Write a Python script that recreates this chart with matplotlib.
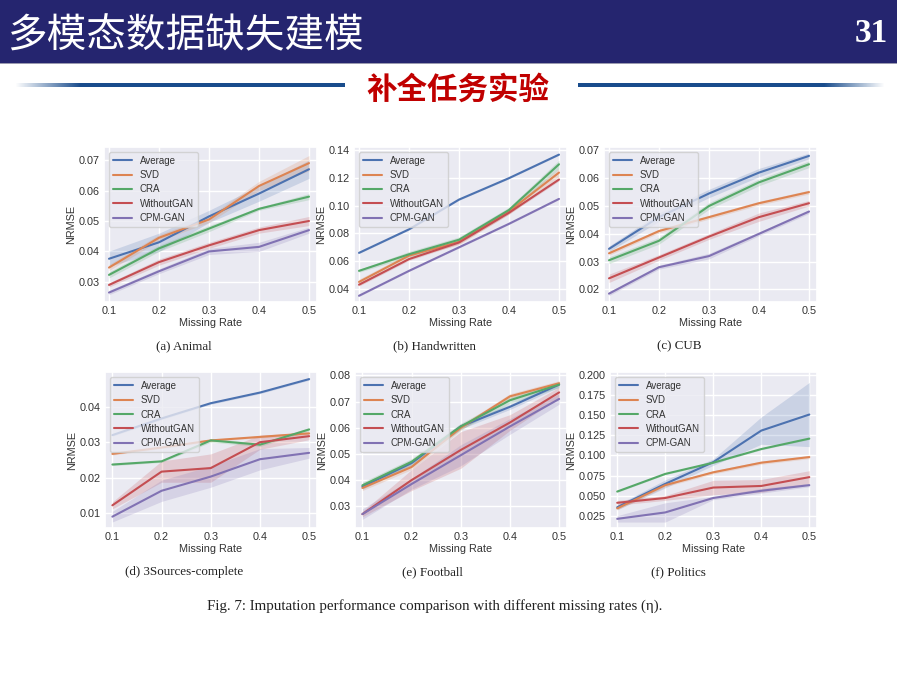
import numpy as np
import matplotlib
matplotlib.use("Agg")
import matplotlib.pyplot as plt
import seaborn as sns
from matplotlib.patches import Rectangle

sns.set_theme(style="darkgrid")
plt.rcParams['font.family'] = ['Liberation Sans', 'Noto Sans CJK SC', 'DejaVu Sans']

# ---------------- data ----------------
missing_rate = [0.1, 0.2, 0.3, 0.4, 0.5]
methods = ["Average", "SVD", "CRA", "WithoutGAN", "CPM-GAN"]
colors = ["#4C72B0", "#DD8452", "#55A868", "#C44E52", "#8172B3"]

animal = {
    "Average":    [0.0376, 0.0430, 0.0515, 0.0590, 0.0670],
    "SVD":        [0.0347, 0.0445, 0.0505, 0.0615, 0.0690],
    "CRA":        [0.0323, 0.0410, 0.0475, 0.0540, 0.0580],
    "WithoutGAN": [0.0290, 0.0365, 0.0420, 0.0470, 0.0500],
    "CPM-GAN":    [0.0265, 0.0335, 0.0400, 0.0415, 0.0470],
}
animal_err = {
    "Average":    [0.0025, 0.0030, 0.0020, 0.0025, 0.0030],
    "SVD":        [0.0010, 0.0010, 0.0010, 0.0015, 0.0025],
    "CRA":        [0.0010, 0.0010, 0.0010, 0.0005, 0.0010],
    "WithoutGAN": [0.0007, 0.0010, 0.0010, 0.0010, 0.0015],
    "CPM-GAN":    [0.0007, 0.0008, 0.0010, 0.0015, 0.0010],
}

handwritten = {
    "Average":    [0.066, 0.083, 0.1045, 0.120, 0.137],
    "SVD":        [0.045, 0.064, 0.074, 0.096, 0.124],
    "CRA":        [0.053, 0.065, 0.0755, 0.097, 0.130],
    "WithoutGAN": [0.043, 0.0615, 0.0735, 0.095, 0.119],
    "CPM-GAN":    [0.035, 0.053, 0.070, 0.087, 0.105],
}
handwritten_err = {
    "Average":    [0.0005, 0.0005, 0.0005, 0.0005, 0.0005],
    "SVD":        [0.002, 0.002, 0.002, 0.002, 0.003],
    "CRA":        [0.001, 0.002, 0.002, 0.002, 0.003],
    "WithoutGAN": [0.001, 0.001, 0.001, 0.001, 0.001],
    "CPM-GAN":    [0.0005, 0.0005, 0.0005, 0.0005, 0.0005],
}

cub = {
    "Average":    [0.0346, 0.0460, 0.0545, 0.0620, 0.0680],
    "SVD":        [0.0330, 0.0410, 0.0460, 0.0510, 0.0550],
    "CRA":        [0.0305, 0.0375, 0.0500, 0.0585, 0.0650],
    "WithoutGAN": [0.0240, 0.0315, 0.0390, 0.0460, 0.0510],
    "CPM-GAN":    [0.0185, 0.0280, 0.0320, 0.0400, 0.0480],
}
cub_err = {
    "Average":    [0.0010, 0.0015, 0.0015, 0.0015, 0.0010],
    "SVD":        [0.0007, 0.0007, 0.0007, 0.0007, 0.0007],
    "CRA":        [0.0012, 0.0012, 0.0012, 0.0012, 0.0012],
    "WithoutGAN": [0.0015, 0.0010, 0.0010, 0.0015, 0.0010],
    "CPM-GAN":    [0.0007, 0.0007, 0.0010, 0.0007, 0.0007],
}

sources3 = {
    "Average":    [0.0320, 0.0367, 0.0410, 0.0440, 0.0478],
    "SVD":        [0.0267, 0.0285, 0.0305, 0.0315, 0.0325],
    "CRA":        [0.0237, 0.0246, 0.0305, 0.0293, 0.0336],
    "WithoutGAN": [0.0122, 0.0217, 0.0227, 0.0300, 0.0317],
    "CPM-GAN":    [0.0090, 0.0163, 0.0203, 0.0252, 0.0270],
}
sources3_err = {
    "Average":    [0.0003, 0.0003, 0.0003, 0.0003, 0.0003],
    "SVD":        [0.0003, 0.0003, 0.0003, 0.0003, 0.0003],
    "CRA":        [0.0003, 0.0003, 0.0005, 0.0005, 0.0005],
    "WithoutGAN": [0.0010, 0.0030, 0.0040, 0.0020, 0.0010],
    "CPM-GAN":    [0.0015, 0.0030, 0.0030, 0.0030, 0.0015],
}

football = {
    "Average":    [0.0375, 0.0465, 0.0605, 0.0680, 0.0765],
    "SVD":        [0.0370, 0.0450, 0.0600, 0.0720, 0.0770],
    "CRA":        [0.0380, 0.0470, 0.0605, 0.0705, 0.0765],
    "WithoutGAN": [0.0270, 0.0400, 0.0515, 0.0620, 0.0735],
    "CPM-GAN":    [0.0270, 0.0385, 0.0495, 0.0605, 0.0710],
}
football_err = {
    "Average":    [0.0010, 0.0010, 0.0010, 0.0010, 0.0010],
    "SVD":        [0.0010, 0.0010, 0.0010, 0.0010, 0.0010],
    "CRA":        [0.0012, 0.0012, 0.0012, 0.0012, 0.0012],
    "WithoutGAN": [0.0010, 0.0040, 0.0070, 0.0030, 0.0020],
    "CPM-GAN":    [0.0020, 0.0020, 0.0040, 0.0030, 0.0020],
}

politics = {
    "Average":    [0.0354, 0.0646, 0.0917, 0.1310, 0.1510],
    "SVD":        [0.0340, 0.0630, 0.0790, 0.0910, 0.0980],
    "CRA":        [0.0550, 0.0770, 0.0910, 0.1080, 0.1210],
    "WithoutGAN": [0.0410, 0.0470, 0.0600, 0.0620, 0.0730],
    "CPM-GAN":    [0.0210, 0.0290, 0.0470, 0.0560, 0.0630],
}
politics_err = {
    "Average":    [0.0030, 0.0050, 0.0040, 0.0170, 0.0400],
    "SVD":        [0.0020, 0.0020, 0.0020, 0.0020, 0.0020],
    "CRA":        [0.0010, 0.0010, 0.0010, 0.0010, 0.0010],
    "WithoutGAN": [0.0030, 0.0030, 0.0090, 0.0080, 0.0080],
    "CPM-GAN":    [0.0040, 0.0120, 0.0020, 0.0030, 0.0020],
}

captions = ["(a) Animal", "(b) Handwritten", "(c) CUB",
            "(d) 3Sources-complete", "(e) Football", "(f) Politics"]
panel_data = [animal, handwritten, cub, sources3, football, politics]
panel_err = [animal_err, handwritten_err, cub_err, sources3_err, football_err, politics_err]
yticks = [
    [0.03, 0.04, 0.05, 0.06, 0.07],
    [0.04, 0.06, 0.08, 0.10, 0.12, 0.14],
    [0.02, 0.03, 0.04, 0.05, 0.06, 0.07],
    [0.01, 0.02, 0.03, 0.04],
    [0.03, 0.04, 0.05, 0.06, 0.07, 0.08],
    [0.025, 0.050, 0.075, 0.100, 0.125, 0.150, 0.175, 0.200],
]
ytick_fmt = ["%.2f", "%.2f", "%.2f", "%.2f", "%.2f", "%.3f"]
ylims = [(0.0234, 0.0743), (0.0305, 0.1425), (0.0155, 0.0712),
         (0.0058, 0.0498), (0.0217, 0.0813), (0.0096, 0.204)]
xticks = [0.1, 0.2, 0.3, 0.4, 0.5]

# ---------------- layout (pixel boxes) ----------------
W, H = 897, 676
fig = plt.figure(figsize=(W / 100, H / 100), dpi=100)
fig.patch.set_facecolor("white")

def fx(x):
    return x / W

def fy(y):
    return 1 - y / H

# axes boxes: (left, right, top, bottom) in pixels
boxes = [(104, 317, 147, 302), (354, 567, 147, 302), (604, 817, 147, 302),
         (105, 317, 372, 528), (355, 567, 372, 528), (610, 817, 372, 528)]
xlims = [(0.09, 0.516)] * 3 + [(0.085, 0.516)] * 3
caption_pos = [(184, 346), (434, 346), (679, 346), (184, 572), (432, 572), (678, 572)]

for i in range(6):
    l, r, t, b = boxes[i]
    ax = fig.add_axes([fx(l), fy(b), (r - l) / W, (b - t) / H])
    d = panel_data[i]
    e = panel_err[i]
    for m, c in zip(methods, colors):
        y = np.array(d[m])
        s = np.array(e[m])
        ax.fill_between(missing_rate, y - s, y + s, color=c, alpha=0.2, lw=0)
        ax.plot(missing_rate, y, color=c, lw=1.5, label=m)
    ax.set_xlim(*xlims[i])
    ax.set_ylim(*ylims[i])
    ax.set_xticks(xticks)
    ax.set_xticklabels(["%.1f" % v for v in xticks])
    ax.set_yticks(yticks[i])
    ax.set_yticklabels([ytick_fmt[i] % v for v in yticks[i]])
    ax.tick_params(labelsize=7.8, pad=3, length=0, colors="#333333")
    ax.set_xlabel("Missing Rate", fontsize=7.8, labelpad=1, color="#333333")
    ax.set_ylabel("NRMSE", fontsize=7.8, labelpad=2, color="#333333")
    ax.grid(color="white", lw=1)
    leg = ax.legend(loc="upper left", fontsize=7, frameon=True, borderaxespad=0.5,
                    handlelength=2.0, labelspacing=0.45)
    for txt in leg.get_texts():
        txt.set_color("#333333")
    cx, cy = caption_pos[i]
    fig.text(fx(cx), fy(cy), captions[i], ha="center", va="center",
             fontsize=9.4, family="Liberation Serif", color="#222222")

fig.text(fx(435), fy(606),
         "Fig. 7: Imputation performance comparison with different missing rates (\u03b7).",
         ha="center", va="center", fontsize=10.8, family="Liberation Serif", color="#222222")

# ---------------- slide header ----------------
fig.patches.append(Rectangle((0, fy(63)), 1, 63 / H, transform=fig.transFigure,
                             facecolor="#25256f", edgecolor="none", zorder=0))
fig.patches.append(Rectangle((0, fy(64)), 1, 1.5 / H, transform=fig.transFigure,
                             facecolor="#9a9ab0", edgecolor="none", zorder=0))
fig.text(fx(7), fy(36), "多模态数据缺失建模", ha="left", va="center", fontsize=28.5,
         color="white", family=["Noto Sans CJK SC", "DejaVu Sans"])
fig.text(fx(888), fy(34), "31", ha="right", va="center", fontsize=24,
         color="white", family="Liberation Serif", weight="bold")
fig.text(fx(458), fy(90), "补全任务实验", ha="center", va="center", fontsize=22,
         color="#c00000", weight="bold", family=["Noto Sans CJK SC", "DejaVu Sans"])

line_rgb = np.array([0.10, 0.30, 0.55])

def gradient_line(x0, x1, yc, fade_left):
    axl = fig.add_axes([fx(x0), fy(yc + 2), (x1 - x0) / W, 4 / H])
    n = 256
    alpha = np.ones(n)
    k = int(n * 0.2)
    if fade_left:
        alpha[:k] = np.linspace(0, 1, k)
    else:
        alpha[-k:] = np.linspace(1, 0, k)
    img = np.zeros((1, n, 4))
    img[0, :, :3] = line_rgb
    img[0, :, 3] = alpha
    axl.imshow(img, aspect="auto", interpolation="bilinear")
    axl.set_axis_off()

gradient_line(15, 345, 85, True)
gradient_line(578, 885, 85, False)

fig.savefig("out.png", dpi=100, facecolor="white")
